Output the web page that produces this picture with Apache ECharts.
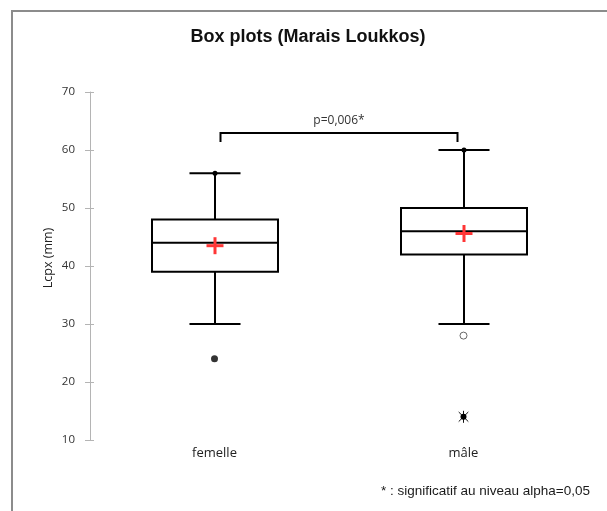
<!DOCTYPE html>
<html>
<head>
<meta charset="utf-8">
<script src="https://cdn.jsdelivr.net/npm/echarts@6/dist/echarts.min.js"></script>
<style>
  html, body { margin: 0; padding: 0; background: #fff; }
  #chart { width: 607px; height: 511px; }
</style>
</head>
<body>
<div id="chart"></div>
<script>
// Groups and summary statistics of Lcpx (mm)
const categories = ['femelle', 'mâle'];
const whiskerLow = [30, 30];
const quartile1 = [39, 42];
const medians = [44, 46];
const quartile3 = [48, 50];
const whiskerHigh = [56, 60];
const means = [43.5, 45.6];

// Individual points drawn outside the box
const filledPoints = [[0, 24]];
const openPoints = [[1, 28]];
const extremePoints = [[1, 14]];

// Y axis ticks
const yMin = 10;
const yMax = 70;
const yStep = 10;
const yTitle = 'Lcpx (mm)';

// Significance bracket between the two groups
const bracketGroups = [0, 1];
const bracketLevel = 63;
const bracketFoot = 61.4;
const bracketText = 'p=0,006*';

const boxData = categories.map((c, i) => [i, whiskerLow[i], quartile1[i], medians[i], quartile3[i], whiskerHigh[i], means[i]]);

const black = '#000';
const lineW = 2;

function renderBox(params, api) {
  const x = api.value(0);
  const pLow = api.coord([x, api.value(1)]);
  const pQ1 = api.coord([x, api.value(2)]);
  const pMed = api.coord([x, api.value(3)]);
  const pQ3 = api.coord([x, api.value(4)]);
  const pHigh = api.coord([x, api.value(5)]);
  const pMean = api.coord([x, api.value(6)]);
  const band = api.size([1, 0])[0];
  const boxW = band * 0.506;
  const capW = band * 0.205;
  const cx = Math.round(pMed[0]);
  const stroke = { stroke: black, lineWidth: lineW, fill: null };
  const line = (x1, y1, x2, y2, style) => ({ type: 'line', shape: { x1, y1, x2, y2 }, style: style || stroke });
  const arm = 8.5;
  const red = { stroke: '#ff3636', lineWidth: 3 };
  return {
    type: 'group',
    children: [
      line(cx, pHigh[1], cx, pQ3[1]),
      line(cx, pQ1[1], cx, pLow[1]),
      line(cx - capW / 2, pHigh[1], cx + capW / 2, pHigh[1]),
      line(cx - capW / 2, pLow[1], cx + capW / 2, pLow[1]),
      { type: 'rect', shape: { x: cx - boxW / 2, y: pQ3[1], width: boxW, height: pQ1[1] - pQ3[1] }, style: { stroke: black, lineWidth: lineW, fill: '#fff' } },
      line(cx - boxW / 2, pMed[1], cx + boxW / 2, pMed[1]),
      { type: 'circle', shape: { cx: cx, cy: pHigh[1], r: 2.5 }, style: { fill: black } },
      line(cx - arm, pMean[1], cx + arm, pMean[1], red),
      line(cx, pMean[1] - arm, cx, pMean[1] + arm, red)
    ]
  };
}

function renderExtreme(params, api) {
  const p = api.coord([api.value(0), api.value(1)]);
  const r = 6;
  const d = r * 0.8;
  const st = { stroke: '#111', lineWidth: 1 };
  return {
    type: 'group',
    children: [
      { type: 'line', shape: { x1: p[0] - d, y1: p[1] - d, x2: p[0] + d, y2: p[1] + d }, style: st },
      { type: 'line', shape: { x1: p[0] - d, y1: p[1] + d, x2: p[0] + d, y2: p[1] - d }, style: st },
      { type: 'line', shape: { x1: p[0], y1: p[1] - r, x2: p[0], y2: p[1] + r }, style: st },
      { type: 'circle', shape: { cx: p[0], cy: p[1], r: 3 }, style: { fill: '#000' } }
    ]
  };
}

function renderBracket(params, api) {
  const a = api.coord([bracketGroups[0], bracketLevel]);
  const b = api.coord([bracketGroups[1], bracketLevel]);
  const foot = api.coord([bracketGroups[0], bracketFoot])[1];
  const x1 = a[0] + 6, x2 = b[0] - 6, y = Math.round(a[1]);
  const st = { stroke: black, lineWidth: lineW, fill: null };
  return {
    type: 'group',
    children: [
      { type: 'polyline', shape: { points: [[x1, foot], [x1, y], [x2, y], [x2, foot]] }, style: st },
      { type: 'text', style: { text: bracketText, x: (x1 + x2) / 2, y: y - 6, align: 'center', verticalAlign: 'bottom', fontSize: 12, fontFamily: 'Open Sans', fill: '#333' } }
    ]
  };
}

const chart = echarts.init(document.getElementById('chart'), null, { renderer: 'canvas' });

chart.setOption({
  animation: false,
  backgroundColor: '#fff',
  grid: { left: 90, right: 19, top: 92, bottom: 71 },
  graphic: [
    { type: 'rect', shape: { x: 12, y: 11, width: 700, height: 600 }, style: { stroke: '#8c8c8c', lineWidth: 2, fill: null }, z: -10 },
    { type: 'text', x: 308, y: 37, style: { text: 'Box plots (Marais Loukkos)', align: 'center', verticalAlign: 'middle', fontSize: 18, fontWeight: 'bold', fontFamily: 'Liberation Sans', fill: '#111' } },
    { type: 'text', x: 48, y: 258, rotation: Math.PI / 2, style: { text: yTitle, align: 'center', verticalAlign: 'middle', fontSize: 12.5, fontFamily: 'Open Sans', fill: '#222' } },
    { type: 'text', x: 381, y: 491, style: { text: '* : significatif au niveau alpha=0,05', align: 'left', verticalAlign: 'middle', fontSize: 13.5, fontFamily: 'Liberation Sans', fill: '#1a1a1a' } }
  ],
  xAxis: {
    type: 'category',
    data: categories,
    axisLine: { show: false },
    axisTick: { show: false },
    splitLine: { show: false },
    axisLabel: { fontSize: 13, fontFamily: 'Open Sans', color: '#222', margin: 7 }
  },
  yAxis: [
    {
      type: 'value',
      min: yMin, max: yMax, interval: yStep,
      axisLine: { show: true, lineStyle: { color: '#b4b4b4', width: 1 } },
      axisTick: { show: true, length: 5, lineStyle: { color: '#b4b4b4' } },
      splitLine: { show: false },
      axisLabel: { fontSize: 11.5, fontFamily: 'Open Sans', color: '#333', margin: 15 }
    },
    {
      type: 'value',
      position: 'left',
      min: yMin, max: yMax, interval: yStep,
      axisLine: { show: false },
      axisTick: { show: true, inside: true, length: 4, lineStyle: { color: '#b4b4b4' } },
      axisLabel: { show: false },
      splitLine: { show: false }
    }
  ],
  series: [
    { type: 'custom', renderItem: renderBracket, data: [[0, bracketLevel]], clip: false, z: 3 },
    { type: 'custom', renderItem: renderBox, data: boxData, encode: { x: 0, y: [1, 2, 3, 4, 5, 6] }, z: 4 },
    { type: 'scatter', data: filledPoints, symbol: 'circle', symbolSize: 7, itemStyle: { color: '#000' }, z: 5 },
    { type: 'scatter', data: openPoints, symbol: 'circle', symbolSize: 7, itemStyle: { color: '#fff', borderColor: '#444', borderWidth: 1 }, z: 5 },
    { type: 'custom', renderItem: renderExtreme, data: extremePoints, z: 5 }
  ]
});
</script>
</body>
</html>
